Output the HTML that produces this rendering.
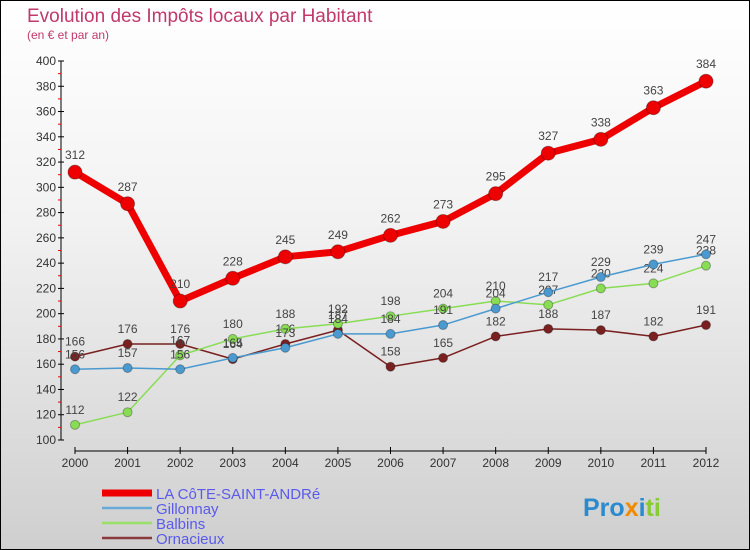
<!DOCTYPE html>
<html><head><meta charset="utf-8"><style>
body{margin:0}
#c{width:748px;height:548px;border:1px solid #000;background:linear-gradient(#fff,#f2f2f2 40%,#cfcfcf);position:relative;font-family:"Liberation Sans",sans-serif;overflow:hidden}
</style></head><body>
<div id="c">
<svg id="s" width="748" height="548"></svg>
</div>
<script>
const years=[2000,2001,2002,2003,2004,2005,2006,2007,2008,2009,2010,2011,2012];
const mainVals=[312,287,210,228,245,249,262,273,295,327,338,363,384];
const gillonnay=[156,157,156,165,173,184,184,191,204,217,229,239,247];
const balbins=[112,122,167,180,188,192,198,204,210,207,220,224,238];
const ornacieux=[166,176,176,164,176,187,158,165,182,188,187,182,191];
const yTicks=[100,120,140,160,180,200,220,240,260,280,300,320,340,360,380,400];
const NS='http://www.w3.org/2000/svg';
const s=document.getElementById('s');
function X(i){return 74+i*(705-74)/12;}
function Y(v){return 439-(v-100)*(379/300);}
function el(t,a,p){const e=document.createElementNS(NS,t);for(const k in a)e.setAttribute(k,a[k]);(p||s).appendChild(e);return e;}
function txt(x,y,str,a){const e=el('text',Object.assign({x:x,y:y},a));e.textContent=str;return e;}
let t=txt(26,21,'Evolution des Impôts locaux par Habitant',{fill:'#c0396a','font-size':19});

t=txt(26,38,'(en € et par an)',{fill:'#c0396a','font-size':12});

// y axis
let a=el('line',{x1:60,y1:Y(400),x2:60,y2:Y(100),stroke:'#000'});

yTicks.forEach((v,i)=>{
  el('line',{x1:57,y1:Y(v),x2:63,y2:Y(v),stroke:'#000'});
  if(v<400)el('line',{x1:57,y1:Y(v+10),x2:60,y2:Y(v+10),stroke:'#e00'});
  const l=txt(55,Y(v)+4,String(v),{fill:'#333','font-size':12,'text-anchor':'end'});
  
});
a=el('line',{x1:X(0),y1:450,x2:X(12),y2:450,stroke:'#000'});

years.forEach((y,i)=>{
  el('line',{x1:X(i),y1:446,x2:X(i),y2:453,stroke:'#000'});
  const l=txt(X(i),466,String(y),{fill:'#333','font-size':12,'text-anchor':'middle'});
  
});
function series(vals,color,w,r,name,lblDy){
  const g=el('g',{});
  
  el('polyline',{points:vals.map((v,i)=>X(i)+','+Y(v)).join(' '),fill:'none',stroke:color,'stroke-width':w,'stroke-linejoin':'round'},g);
  vals.forEach((v,i)=>{
    const c=el('circle',{cx:X(i),cy:Y(v),r:r,fill:color,stroke:'rgba(0,0,0,0.3)'},g);
    
    const l=txt(X(i),Y(v)+lblDy,String(v),{fill:'#444','font-size':12,'text-anchor':'middle'},g);
  });
}
series(ornacieux,'#7a2020',1.5,4.5,'ornacieux-series',-11);
series(balbins,'#88dd55',1.5,4.5,'balbins-series',-11);
series(gillonnay,'#4a9ad0',1.5,4.5,'gillonnay-series',-11);
series(mainVals,'#ee0000',7,7,'la-cote-saint-andre-series',-13);
// legend
const leg=[['LA CôTE-SAINT-ANDRé','#ee0000',7],['Gillonnay','#6aaad6',2.5],['Balbins','#99e066',2.5],['Ornacieux','#8a3a3a',2.5]];
leg.forEach((d,i)=>{
  const y=492+i*15;
  const g=el('g',{});
  
  el('line',{x1:101,y1:y,x2:151,y2:y,stroke:d[1],'stroke-width':d[2]},g);
  txt(155,y+6,d[0],{fill:'#5a5aee','font-size':15},g);
});
t=txt(582,515,'Pro',{fill:'#2a8ad0','font-size':25,'font-weight':'bold'});

const tp=el('tspan',{fill:'#f08a00'},t);tp.textContent='x';
const tp2=el('tspan',{fill:'#2a8ad0'},t);tp2.textContent='i';
const tp3=el('tspan',{fill:'#88cc33'},t);tp3.textContent='ti';
</script>
</body></html>
